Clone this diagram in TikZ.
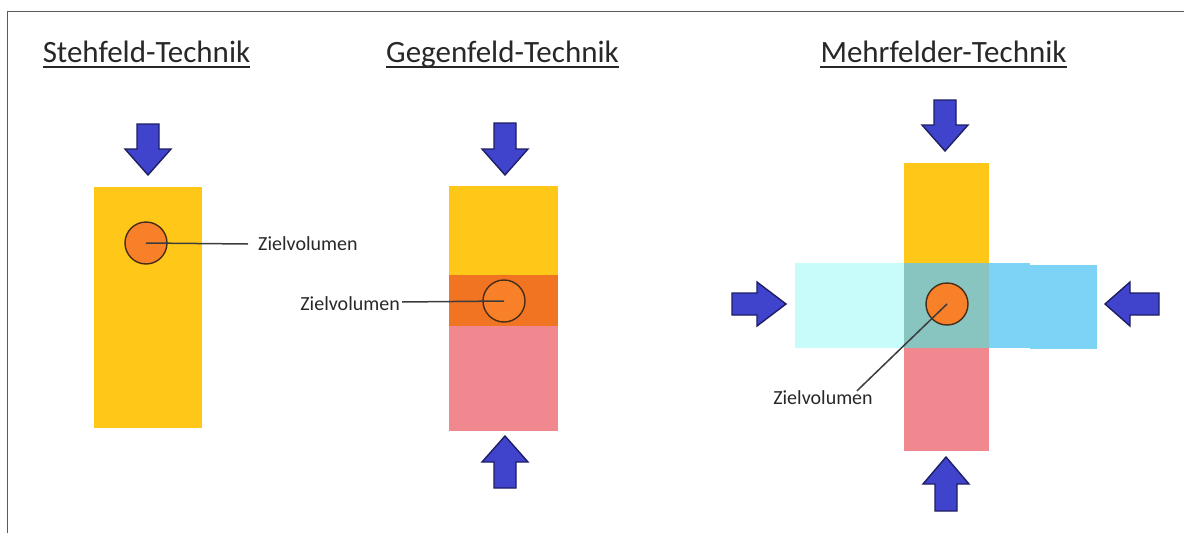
\documentclass[tikz,border=0pt]{standalone}
\usepackage{fontspec}
\setmainfont{Carlito}
\definecolor{arrfill}{RGB}{64,68,204}
\definecolor{arrdraw}{RGB}{30,30,100}
\definecolor{fyellow}{RGB}{255,200,25}
\definecolor{fband}{RGB}{240,116,34}
\definecolor{fpink}{RGB}{242,136,143}
\definecolor{fcyan}{RGB}{200,252,250}
\definecolor{fteal}{RGB}{136,196,192}
\definecolor{fblue}{RGB}{125,211,245}
\definecolor{forange}{RGB}{248,128,40}
\definecolor{cdraw}{RGB}{70,45,25}
\definecolor{lead}{RGB}{60,60,60}
\definecolor{framec}{RGB}{90,90,90}
\definecolor{titlec}{RGB}{40,40,40}
\newcommand\vfat[4]{% cx, start, neck, tip
  \filldraw[fatarrow] ({#1-11},#2) -- ({#1+11},#2) -- ({#1+11},#3) -- ({#1+23},#3) -- (#1,#4) -- ({#1-23},#3) -- ({#1-11},#3) -- cycle;}
\newcommand\hfat[4]{% cy, start, neck, tip
  \filldraw[fatarrow] (#2,{#1-11}) -- (#2,{#1+11}) -- (#3,{#1+11}) -- (#3,{#1+22}) -- (#4,#1) -- (#3,{#1-22}) -- (#3,{#1-11}) -- cycle;}
\begin{document}
\begin{tikzpicture}[x=1pt,y=-1pt,
  fatarrow/.style={fill=arrfill,draw=arrdraw,line width=1.4pt,line join=miter},
  title/.style={font=\fontsize{31}{34}\selectfont,text=titlec,inner sep=0pt,anchor=base},
  uline/.style={titlec,line width=2pt},
  target/.style={circle,minimum size=42pt,inner sep=0pt,fill=forange,draw=cdraw,line width=1.4pt},
  zlabel/.style={font=\fontsize{20}{22}\selectfont,text=titlec,inner sep=0pt},
  leader/.style={lead,line width=1.5pt},
  frameline/.style={framec,line width=1.5pt}]
\useasboundingbox (0,0) rectangle (1184,533);
\fill[white] (0,0) rectangle (1184,533);
\draw[frameline] (7.5,533) -- (7.5,11.7) -- (1184,11.7);

% titles
\node[title] (t1) at (146.5,62) {Stehfeld-Technik};
\node[title] (t2) at (502.5,62) {Gegenfeld-Technik};
\node[title] (t3) at (943.5,62) {Mehrfelder-Technik};
\foreach \t in {t1,t2,t3}
  \draw[uline] ([yshift=-4.5pt]\t.base west) -- ([yshift=-4.5pt]\t.base east);

% panel 1
\fill[fyellow] (94,187) rectangle (202,428);
\vfat{148}{124}{149}{175}
\node[target] (c1) at (146,243) {};
\node[zlabel,anchor=west] (z1) at (258,244) {Zielvolumen};
\draw[leader] (c1.center) -- ([xshift=-10pt]z1.west);

% panel 2
\fill[fyellow] (449,186) rectangle (558,275);
\fill[fband] (449,275) rectangle (558,326);
\fill[fpink] (449,326) rectangle (558,431);
\vfat{505}{123}{149}{175}
\vfat{505}{488}{462}{436}
\node[target] (c2) at (504,301) {};
\node[zlabel,anchor=east] (z2) at (400,304) {Zielvolumen};
\draw[leader] (c2.center) -- ([xshift=2pt,yshift=2pt]z2.east);

% panel 3
\fill[fyellow] (904,163) rectangle (989,263);
\fill[fpink] (904,348) rectangle (989,451);
\fill[fcyan] (795,263) rectangle (904,348);
\fill[fteal] (904,263) rectangle (989,348);
\fill[fblue] (989,263) rectangle (1030,348);
\fill[fblue] (1030,265) rectangle (1097,349);
\vfat{945}{100}{125}{151}
\vfat{946}{511}{484}{457}
\hfat{304}{732}{757}{786}
\hfat{304}{1159}{1130}{1105}
\node[target] (c3) at (947,304) {};
\node[zlabel] (z3) at (823,398) {Zielvolumen};
\draw[leader] (c3.center) -- ([xshift=34pt]z3.north);
\end{tikzpicture}
\end{document}
